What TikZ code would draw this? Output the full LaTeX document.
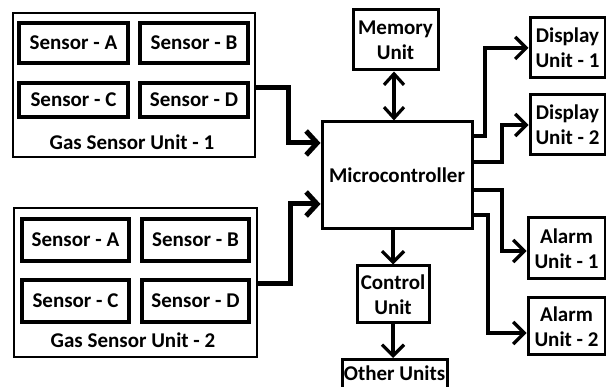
\documentclass[tikz,border=0pt]{standalone}
\usepackage{fontspec}
\setmainfont{Carlito}
\usetikzlibrary{arrows.meta}
\begin{document}
\begin{tikzpicture}[x=1pt,y=-1pt,
  every node/.style={font=\fontsize{21}{25}\selectfont\bfseries, inner sep=0pt, align=center},
  box/.style={draw, line width=3pt, rectangle},
  outerbox/.style={draw, line width=2.6pt, rectangle},
  sensorbox/.style={draw, line width=4pt, rectangle},
  conn/.style={line width=3.2pt, -{Straight Barb[length=11pt,width=22pt]}},
  bus/.style={line width=5pt, -{Straight Barb[length=11pt,width=24pt]}}]
\useasboundingbox (0,0) rectangle (606,387);

% Gas sensor unit 1
\node[outerbox, minimum width=242, minimum height=144] (g1) at (134,85) {};
\node[sensorbox, minimum width=109, minimum height=40] (a1s) at (73.5,43) {Sensor - A};
\node[sensorbox, minimum width=108, minimum height=40] (b1s) at (194,43) {Sensor - B};
\node[sensorbox, minimum width=109, minimum height=34] (c1s) at (73.5,100) {Sensor - C};
\node[sensorbox, minimum width=108, minimum height=34] (d1s) at (194,100) {Sensor - D};
\node (g1l) at (132,142) {Gas Sensor Unit - 1};

% Gas sensor unit 2
\node[outerbox, minimum width=243, minimum height=149] (g2) at (135.5,282.5) {};
\node[sensorbox, minimum width=107, minimum height=42] (a2s) at (75.5,240) {Sensor - A};
\node[sensorbox, minimum width=107, minimum height=42] (b2s) at (195.5,240) {Sensor - B};
\node[sensorbox, minimum width=107, minimum height=42] (c2s) at (75.5,301) {Sensor - C};
\node[sensorbox, minimum width=107, minimum height=42] (d2s) at (195.5,301) {Sensor - D};
\node (g2l) at (133,340) {Gas Sensor Unit - 2};

% Central blocks
\node[box, minimum width=150, minimum height=107] (mc) at (397,175.5) {Microcontroller};
\node[box, minimum width=85, minimum height=60] (mem) at (395.5,40) {Memory\\Unit};
\node[box, minimum width=72, minimum height=57] (ctrl) at (393,294.5) {Control\\Unit};
\node[box, minimum width=105, minimum height=37, anchor=north] (oth) at (394.5,358) {};
\node (othl) at (394.5,373) {Other Units};

% Output blocks
\node[box, minimum width=75, minimum height=60] (d1) at (567.5,48) {Display\\Unit - 1};
\node[box, minimum width=75, minimum height=60] (d2) at (567.5,125) {Display\\Unit - 2};
\node[box, minimum width=77, minimum height=61] (al1) at (566.5,248.5) {Alarm\\Unit - 1};
\node[box, minimum width=77, minimum height=57] (al2) at (566.5,326.5) {Alarm\\Unit - 2};

% Sensor buses into the microcontroller
\draw[bus] (g1.east |- 0,88) -- (288,88) |- (mc.west |- 0,143);
\draw[bus] (g2.east |- 0,284) -- (290,284) |- (mc.west |- 0,204);

% Memory link and control chain
\draw[line width=3.2pt, {Straight Barb[length=11pt,width=20pt]}-{Straight Barb[length=11pt,width=20pt]}] (mem.south -| 394,0) -- (mc.north -| 394,0);
\draw[conn] (mc.south -| 393,0) -- (ctrl.north);
\draw[conn] (ctrl.south) -- (ctrl.south |- oth.north);

% Outputs
\draw[conn] (mc.east |- 0,136) -- (485,136) |- (d1.west);
\draw[conn] (mc.east |- 0,162) -- (502,162) |- (d2.west);
\draw[conn] (mc.east |- 0,190) -- (502,190) |- (al1.west |- 0,251);
\draw[conn] (mc.east |- 0,215) -- (488,215) |- (al2.west |- 0,333);
\end{tikzpicture}
\end{document}
